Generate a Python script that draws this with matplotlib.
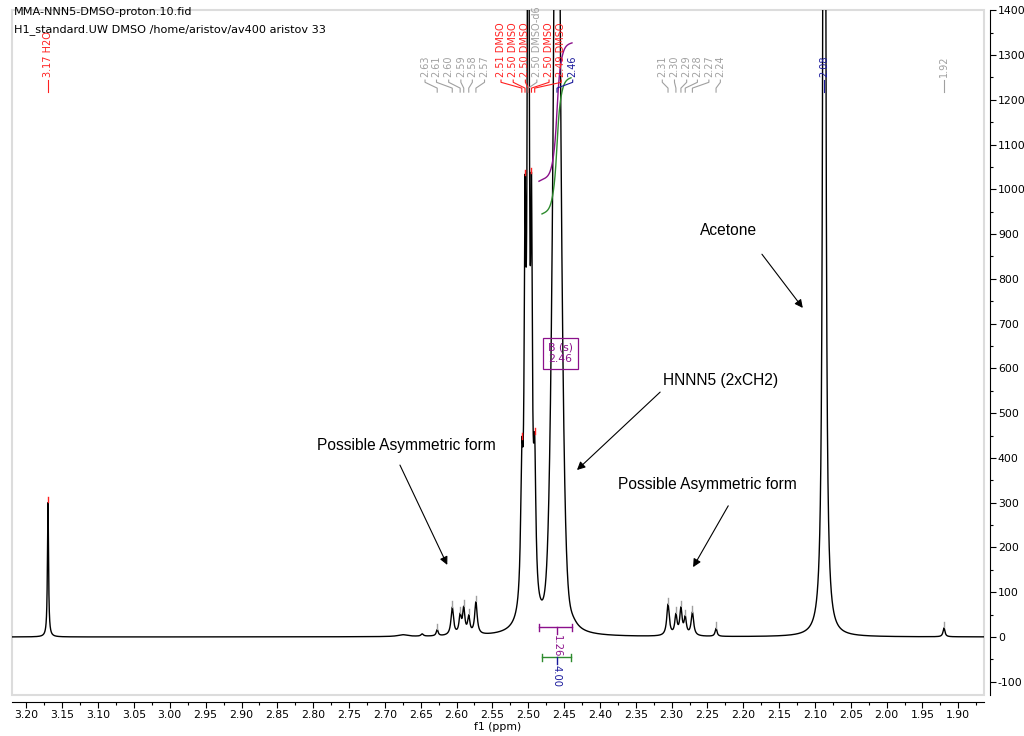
import numpy as np
import matplotlib.pyplot as plt
from matplotlib.patches import Rectangle
from matplotlib.ticker import MultipleLocator, FormatStrFormatter

plt.rcParams["axes.unicode_minus"] = False

# lorentzian lines: position (ppm), height, half width (ppm)
peak_ppm = np.array([3.170, 2.675, 2.648, 2.627,
                     2.606, 2.595, 2.590, 2.583, 2.573,
                     2.500,
                     2.509, 2.5045, 2.5000, 2.4955, 2.491,
                     2.4599, 2.438,
                     2.305, 2.294, 2.287, 2.281, 2.271, 2.238,
                     2.087, 1.920])
peak_height = np.array([300, 4, 5, 14,
                        62, 40, 56, 38, 72,
                        22,
                        290, 740, 2200, 740, 290,
                        2250, 8,
                        70, 44, 58, 38, 52, 18,
                        5000, 20])
peak_hw = np.array([0.0009, 0.008, 0.002, 0.0016,
                    0.0021, 0.0019, 0.0019, 0.0019, 0.0021,
                    0.015,
                    0.0019, 0.0014, 0.0014, 0.0014, 0.0019,
                    0.0028, 0.008,
                    0.0021, 0.0019, 0.0019, 0.0019, 0.0021, 0.0016,
                    0.0014, 0.0016])

# gaussian core of the broad 2.46 singlet
core_ppm = np.array([2.4599])
core_height = np.array([1000])
core_sigma = np.array([0.006])

# peak labels: text, peak it points to, slot where the text sits, colour
label_text = ["3.17 H2O",
              "2.63", "2.61", "2.60", "2.59", "2.58", "2.57",
              "2.51 DMSO", "2.50 DMSO", "2.50 DMSO", "2.50 DMSO-d6", "2.50 DMSO", "2.49 DMSO",
              "2.46",
              "2.31", "2.30", "2.29", "2.28", "2.27", "2.24",
              "2.08", "1.92"]
label_peak = [3.170,
              2.627, 2.606, 2.595, 2.590, 2.583, 2.573,
              2.509, 2.5045, 2.5000, 2.5000, 2.4955, 2.491,
              2.4599,
              2.305, 2.294, 2.287, 2.281, 2.271, 2.238,
              2.087, 1.920]
label_slot = [3.170,
              2.644, 2.628, 2.611, 2.594, 2.578, 2.561,
              2.538, 2.521, 2.504, 2.488, 2.471, 2.454,
              2.438,
              2.313, 2.296, 2.279, 2.264, 2.248, 2.232,
              2.087, 1.920]
RED, GRAY, BLUE = "#ff2020", "#a0a0a0", "#1a1a9c"
label_color = [RED,
               GRAY, GRAY, GRAY, GRAY, GRAY, GRAY,
               RED, RED, RED, GRAY, RED, RED,
               BLUE,
               GRAY, GRAY, GRAY, GRAY, GRAY, GRAY,
               BLUE, GRAY]

# small peak-pick marks
mark_ppm = [3.170, 2.627, 2.606, 2.595, 2.590, 2.583, 2.573,
            2.509, 2.5045, 2.4955, 2.491,
            2.305, 2.294, 2.287, 2.281, 2.271, 2.238, 1.920]
mark_color = [RED, GRAY, GRAY, GRAY, GRAY, GRAY, GRAY,
              RED, RED, RED, RED,
              GRAY, GRAY, GRAY, GRAY, GRAY, GRAY, GRAY]

# integrals: range (ppm), curve start/end level, value
int_range = [(2.485, 2.439), (2.4808, 2.4404)]
int_level = [(1018, 1327), (945, 1249)]
int_bar_y = [22, -45]
int_value = ["1.26", "4.00"]
PURPLE, GREEN = "#8b108b", "#2e8b2e"

X_LEFT, X_RIGHT = 3.2202, 1.8642
Y_BOTTOM, Y_TOP = -129.6, 1400.5


def spectrum(x):
    y = np.zeros_like(x, dtype=float)
    for p, h, w in zip(peak_ppm, peak_height, peak_hw):
        y += h / (1 + ((x - p) / w) ** 2)
    for p, h, s in zip(core_ppm, core_height, core_sigma):
        y += h * np.exp(-0.5 * ((x - p) / s) ** 2)
    return y


fig = plt.figure(figsize=(10.24, 7.36), dpi=100)
ax = fig.add_axes([12 / 1024, 41 / 736, 972 / 1024, 685 / 736])

ppm = np.linspace(X_LEFT, X_RIGHT, 40000)
ax.plot(ppm, spectrum(ppm), color="black", lw=1.0, zorder=3)

ax.set_xlim(X_LEFT, X_RIGHT)
ax.set_ylim(Y_BOTTOM, Y_TOP)

# frame like the nmr program: light box, axes outside of it
ax.add_patch(Rectangle((0, 0), 1, 1, transform=ax.transAxes, fill=False,
                       ec="#dcdcdc", lw=1.5, clip_on=False, zorder=0))
for side in ["top", "left"]:
    ax.spines[side].set_visible(False)
ax.spines["bottom"].set_position(("outward", 5))
ax.spines["right"].set_position(("outward", 4))
ax.yaxis.tick_right()
ax.xaxis.set_major_locator(MultipleLocator(0.05))
ax.xaxis.set_minor_locator(MultipleLocator(0.025))
ax.xaxis.set_major_formatter(FormatStrFormatter("%.2f"))
ax.yaxis.set_major_locator(MultipleLocator(100))
ax.yaxis.set_minor_locator(MultipleLocator(50))
ax.tick_params(axis="both", which="major", length=4, width=0.8, labelsize=7.8, pad=2)
ax.tick_params(axis="both", which="minor", length=2.5, width=0.8)
ax.set_xlabel("f1 (ppm)", fontsize=7.8, labelpad=1)

# header
fig.text(14 / 1024, 1 - 12 / 736, "MMA-NNN5-DMSO-proton.10.fid", fontsize=8.1, va="center")
fig.text(14 / 1024, 1 - 30 / 736, "H1_standard.UW DMSO /home/aristov/av400 aristov 33",
         fontsize=8.1, va="center")

# peak labels with connectors
for txt, pk, slot, col in zip(label_text, label_peak, label_slot, label_color):
    ax.text(slot, 1251, txt, rotation=90, ha="center", va="bottom", color=col,
            fontsize=7.0, zorder=5)
    ax.plot([slot, slot, pk, pk], [1244, 1239, 1226, 1217], color=col, lw=0.8, zorder=5)

# peak-pick marks
for p, col in zip(mark_ppm, mark_color):
    top = spectrum(np.array([p]))[0]
    ax.plot([p, p], [top + 1, top + 13], color=col, lw=1.0, zorder=4)

# integrals
for (a, b), (lo, hi), ybar, val, col, tcol in zip(int_range, int_level, int_bar_y, int_value,
                                                 [PURPLE, GREEN], [PURPLE, BLUE]):
    xi = np.linspace(a, b, 2000)
    cum = np.cumsum(spectrum(xi))
    cum = (cum - cum[0]) / (cum[-1] - cum[0])
    ax.plot(xi, lo + cum * (hi - lo), color=col, lw=1.0, zorder=4)
    mid = 2.4599
    ax.plot([a, b], [ybar, ybar], color=col, lw=1.0, zorder=4)
    ax.plot([a, a], [ybar - 8, ybar + 8], color=col, lw=1.0, zorder=4)
    ax.plot([b, b], [ybar - 8, ybar + 8], color=col, lw=1.0, zorder=4)
    ax.plot([mid, mid], [ybar, ybar - 16], color=tcol, lw=1.0, zorder=4)
    ax.text(mid, ybar - 18, val, rotation=-90, ha="center", va="top", color=tcol,
            fontsize=7.2, zorder=5)

# multiplet box
ax.text(2.455, 634, "B (s)\n2.46", ha="center", va="center", color=PURPLE, fontsize=7.8,
        linespacing=1.25, zorder=6,
        bbox=dict(boxstyle="square,pad=0.42", fc="none", ec=PURPLE, lw=0.9))

# hand annotations
notes = [("Possible Asymmetric form", (2.795, 427), (2.679, 384), (2.613, 161)),
         ("HNNN5 (2xCH2)", (2.312, 574), (2.316, 547), (2.432, 373)),
         ("Possible Asymmetric form", (2.375, 340), (2.221, 293), (2.270, 156)),
         ("Acetone", (2.260, 907), (2.174, 855), (2.117, 735))]
for txt, pos, tail, head in notes:
    ax.text(pos[0], pos[1], txt, ha="left", va="center", fontsize=11.2,
            family="Liberation Sans", zorder=6)
    ax.annotate("", xy=head, xytext=tail, zorder=6,
                arrowprops=dict(arrowstyle="-|>", color="black", lw=0.8,
                                mutation_scale=12, shrinkA=0, shrinkB=0))

fig.savefig("out.png", dpi=100)
